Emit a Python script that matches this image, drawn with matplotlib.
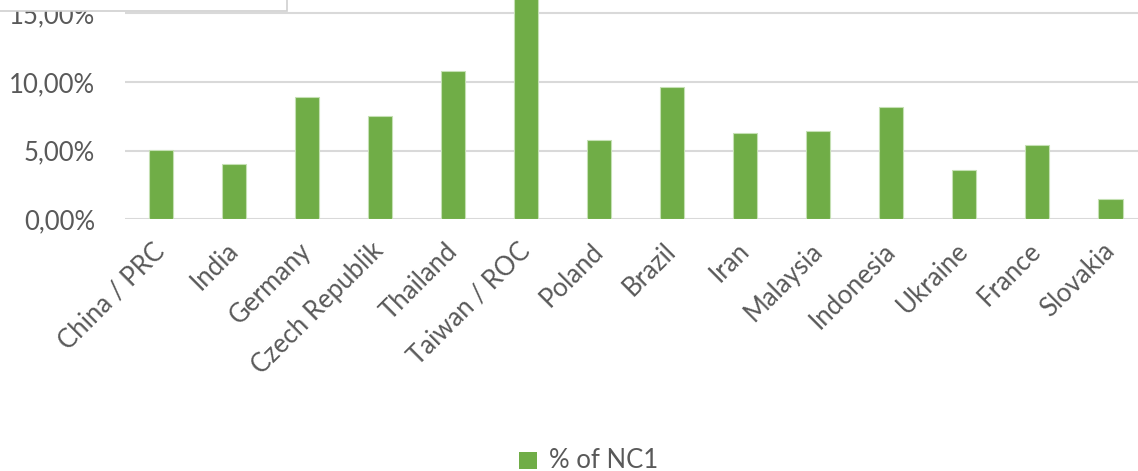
import matplotlib
matplotlib.use("Agg")
import matplotlib.pyplot as plt
from matplotlib.patches import Rectangle
from matplotlib.ticker import FuncFormatter

countries = ["China / PRC", "India", "Germany", "Czech Republik", "Thailand",
             "Taiwan / ROC", "Poland", "Brazil", "Iran", "Malaysia",
             "Indonesia", "Ukraine", "France", "Slovakia"]
pct_nc1 = [5.05, 4.03, 8.89, 7.52, 10.8, 17.5, 5.78, 9.64, 6.29, 6.41,
           8.16, 3.57, 5.41, 1.46]
yticks = [0, 5, 10, 15]
series_name = "% of NC1"

plt.rcParams['font.family'] = ['Lato', 'DejaVu Sans']
TXT = "#595959"
GREEN = "#70AD47"
FS = 18.5

W, H = 1138, 471
fig = plt.figure(figsize=(W / 100, H / 100), dpi=100)
left_px, right_px, bottom_px, top_px = 124.5, 1147, 219.3, 0
ax = fig.add_axes([left_px / W, 1 - bottom_px / H,
                   (right_px - left_px) / W, (bottom_px - top_px) / H])

x = list(range(len(countries)))
ax.bar(x, pct_nc1, width=0.33, color=GREEN, edgecolor="#C5E0B4",
       linewidth=0.8, zorder=3, clip_on=True)
ax.set_xlim(-0.5, len(countries) - 0.5)
ax.set_ylim(0, 15.97)
ax.set_yticks(yticks)
ax.yaxis.set_major_formatter(FuncFormatter(lambda v, p: f"{v:.2f}".replace(".", ",") + "%"))
ax.grid(axis="y", color="#D9D9D9", linewidth=1.5, zorder=0)
ax.set_axisbelow(True)
for s in ax.spines.values():
    s.set_visible(False)
ax.tick_params(axis="both", length=0, colors=TXT, labelsize=FS)
ax.tick_params(axis="y", pad=21)
ax.set_xticks(x)
ax.set_xticklabels(countries, rotation=45, ha="right", va="center",
                   rotation_mode="anchor", fontsize=FS, color=TXT)
ax.tick_params(axis="x", pad=20)

# legend
fig.patches.append(Rectangle((519 / W, 1 - 469 / H), 18 / W, 17 / H,
                             transform=fig.transFigure, facecolor=GREEN,
                             edgecolor="none", figure=fig))
fig.text(549 / W, 1 - 460 / H, series_name, fontsize=FS, color=TXT,
         va="center", ha="left")

# overlay box at top-left (cropped screenshot element)
fig.patches.append(Rectangle((-2 / W, 1 - 10.7 / H), 289 / W, 14 / H,
                             transform=fig.transFigure, facecolor="white",
                             edgecolor="#D0D0D0", linewidth=1.2, zorder=10,
                             figure=fig))

fig.savefig("out.png", dpi=100)
